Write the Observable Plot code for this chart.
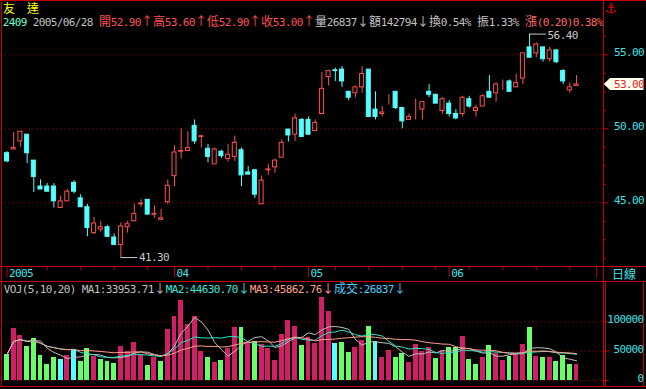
<!DOCTYPE html>
<html><head><meta charset="utf-8">
<script src="https://cdn.jsdelivr.net/npm/d3@7"></script>
<script src="https://cdn.jsdelivr.net/npm/@observablehq/plot@0.6"></script>
<style>
html,body{margin:0;padding:0;background:#000;}
#wrap{position:relative;width:646px;height:389px;background:#000;overflow:hidden;}
#wrap svg{position:absolute;left:0;top:0;}
</style></head><body><div id="wrap"></div>
<script>
// ---------- data ----------
const open  = [48.35,48.6,49.15,49.6,47.85,46.1,46.1,46.1,44.65,45.1,46.35,45.3,44.7,42.95,43.2,43.35,42.65,42.15,43.35,43.75,44.9,45.2,44.2,43.85,45.05,46.8,48.45,48.5,50.2,49.45,48.65,47.6,48.45,47.95,48.1,48.55,47.05,47.2,44.9,47.2,47.4,48.05,49.95,49.6,50.6,50.6,49.85,51.0,53.5,53.95,54.0,52.5,52.4,52.8,54.0,51.3,51.0,52.3,52.5,51.4,50.6,51.2,51.3,52.5,52.3,51.2,51.7,51.0,51.0,52.0,51.2,51.5,52.5,52.4,53.1,53.2,52.8,53.4,55.5,55.1,55.5,54.7,55.3,53.9,52.6,52.9];
const high  = [48.45,49.75,49.8,49.6,47.85,46.55,46.3,46.3,45.45,45.9,46.5,45.55,44.9,44.0,43.75,43.45,42.9,43.65,43.75,44.9,45.2,45.2,44.8,44.55,46.55,48.85,50.0,49.8,50.6,49.55,48.95,48.7,48.55,48.95,49.5,48.7,47.45,47.25,46.8,47.6,47.95,49.25,49.95,51.0,50.7,50.8,50.6,53.8,53.9,54.1,54.2,52.5,52.9,54.2,54.0,52.5,51.5,52.3,52.5,51.4,51.0,52.0,51.8,53.0,52.3,52.1,51.9,51.3,52.2,52.2,51.6,52.3,53.6,53.1,53.3,53.3,53.7,55.1,56.4,55.8,55.5,55.5,55.3,54.0,53.1,53.6];
const low   = [47.7,48.6,48.75,47.65,45.7,45.9,45.75,44.65,44.65,45.1,45.6,44.7,42.7,42.85,43.0,42.7,42.15,41.3,42.95,43.75,44.7,44.2,43.95,43.85,44.9,46.1,47.95,48.5,48.95,48.7,47.7,47.6,48.0,47.75,47.8,46.1,46.9,45.3,44.9,46.85,47.0,48.05,49.1,49.15,49.45,49.6,49.85,51.0,52.9,53.2,52.8,51.9,52.1,52.4,50.8,50.6,50.8,51.6,51.3,50.0,50.6,50.6,50.6,52.1,51.7,51.0,50.8,50.6,50.8,51.4,50.8,51.5,52.1,51.8,52.6,52.5,52.8,53.0,54.8,54.8,54.5,54.5,54.4,53.0,52.4,52.9];
const close = [47.8,48.7,49.8,48.35,46.75,45.9,45.75,45.1,45.1,45.75,45.75,44.7,43.3,43.6,43.35,42.7,42.15,43.4,43.55,44.25,44.95,44.2,44.25,43.95,46.15,48.4,48.5,48.7,49.15,49.5,48.1,48.6,48.15,48.25,49.05,46.85,46.9,45.55,46.5,47.25,47.85,49.05,49.55,50.7,49.45,49.6,50.4,52.7,53.9,53.9,53.2,52.1,52.8,53.7,50.8,50.8,51.1,52.3,51.4,50.5,50.8,51.2,51.8,52.3,51.7,52.0,51.0,50.7,52.1,51.5,51.4,52.2,52.1,53.0,53.1,52.5,53.1,55.1,54.8,55.7,54.7,55.3,54.5,53.2,52.8,53.0];
const vol   = [44300,88600,76100,57900,71600,42600,27300,39200,35800,42000,52300,32400,54500,40900,35800,32400,29000,58400,48800,64700,43100,25600,39200,32400,86900,109500,136300,95900,109000,49400,39200,30700,34100,54500,90300,90300,65200,66400,60800,54500,34600,78900,102200,92000,59600,73300,63500,141900,118100,63500,64700,47700,56200,68100,92000,65900,39200,51100,39200,45400,30700,61300,49400,56200,37500,50600,55700,56200,75000,35800,27300,39200,59600,46000,34100,40900,46000,61300,90300,40900,39200,39200,32400,42600,27300,26837];

const headerTop   = [{text: "友　達", tone: "name"}];
const headerQuote = [
  {text: "2409", tone: "code"},
  {text: " 2005/06/28 ", tone: "info"},
  {text: "開52.90↑高53.60↑低52.90↑收53.00↑", tone: "up"},
  {text: "量26837↓額142794↓換0.54% 振1.33% ", tone: "info"},
  {text: "漲(0.20)0.38%", tone: "chg"}
];
const volHeader = [
  {text: "VOJ(5,10,20) MA1:33953.71↓", tone: "ma0"},
  {text: "MA2:44630.70↓", tone: "ma1"},
  {text: "MA3:45862.76↓", tone: "ma2"},
  {text: "成交:26837↓", tone: "vol"}
];
const maWindows       = [5, 10, 20];
const priceTicks      = [45, 50, 55];
const priceMinorTicks = [41.25, 42.5, 43.75, 46.25, 47.5, 48.75, 51.25, 52.5, 53.75, 56.25];
const volTicks        = [0, 50000, 100000];
const monthTickIdx    = [0, 25, 45, 66, 88];
const monthLabels     = ["2005", "04", "05", "06", ""];
const weekTickIdx     = [6, 11, 16, 21, 30, 35, 40, 49, 54, 59, 64, 69, 74, 79, 84];
const periodLabel     = "日線";
const anchorIcon      = "⚓";

// ---------- styles ----------
const RED = "#ff5050", CYAN = "#55ffff", FRAME = "#c40000", GRID = "#b00000";
const AXISTXT = "#3fe0e6", NOTE = "#c8c8c8";
const VOLUP = "#cf1f66", VOLDN = "#66ff66", VOLFLAT = "#55ffff";
const MACOL = ["#c0c0c0", "#2ee6c8", "#ff9f8a"];
const TONES = {name: "#ffff00", code: "#66ffcc", info: "#c0c0c0", up: "#ff5050", chg: "#ff6666",
               ma0: MACOL[0], ma1: "#33e6d6", ma2: MACOL[2], vol: "#44ccff"};

const N = close.length;
const idx = d3.range(N);
const isUp = i => close[i] >= open[i];
const volColor = i => {
  const prev = i > 0 ? close[i - 1] : open[i];
  return close[i] > prev ? VOLUP : close[i] < prev ? VOLDN : VOLFLAT;
};

const wrap = document.getElementById("wrap");
const W = 646, H = 389;
const X = {type: "linear", domain: [0, 85], range: [6.5, 6.5 + 6.7 * 85], axis: null};
const base = {
  width: W, height: H, marginTop: 0, marginBottom: 0, marginLeft: 3, marginRight: 43,
  color: {type: "identity"},
  style: {background: "transparent", fontFamily: "'DejaVu Sans Mono', monospace", fontSize: "11px", letterSpacing: "-0.6px", overflow: "visible"}
};

// ---------- frame (layout only) ----------
const frame = d3.create("svg").attr("width", W).attr("height", H);
const ln = (x1, y1, x2, y2) => frame.append("line").attr("x1", x1).attr("y1", y1).attr("x2", x2).attr("y2", y2)
  .attr("stroke", FRAME).attr("stroke-width", 1);
ln(0, 0.5, W, 0.5);
ln(1.5, 0, 1.5, 387);
ln(0, 386.5, W, 386.5);
ln(603.5, 0, 603.5, 387);
ln(0, 266.5, W, 266.5);
ln(0, 281.5, W, 281.5);
ln(605.5, 281.5, 605.5, 386.5);
ln(643.5, 281.5, 643.5, 386.5);
wrap.appendChild(frame.node());

// ---------- price panel ----------
const iLow = d3.minIndex(low), iHigh = d3.maxIndex(high);
const priceTag = (index, scales) => {
  const yc = scales.y(close[N - 1]);
  const g = d3.create("svg:g");
  g.append("polygon")
    .attr("points", [[603.8, yc], [610, yc - 6], [643.5, yc - 6], [643.5, yc + 6], [610, yc + 6]].map(p => p.join(",")).join(" "))
    .attr("fill", "#fffff0");
  return g.node();
};
const price = Plot.plot({
  ...base,
  x: X,
  y: {domain: [45, 55], range: [202.3, 54.3], axis: null},
  marks: [
    Plot.ruleY(priceTicks, {y: d => d, stroke: GRID, strokeDasharray: "1,3", x1: -0.25, x2: 88.9}),
    Plot.ruleX(idx, {x: i => i, y1: i => low[i], y2: i => high[i], stroke: i => isUp(i) ? RED : CYAN}),
    Plot.rect(idx, {x1: i => i - 0.3, x2: i => i + 0.3, y1: i => open[i], y2: i => close[i],
      fill: i => isUp(i) ? "#000000" : CYAN, stroke: i => isUp(i) ? RED : CYAN}),
    Plot.axisY(priceTicks, {anchor: "right", tickSize: 4, tickFormat: () => "", stroke: FRAME, label: null}),
    Plot.axisY(priceMinorTicks, {anchor: "right", tickSize: 2, tickFormat: () => "", stroke: FRAME, label: null}),
    Plot.text(priceTicks, {y: d => d, text: d => d.toFixed(2), frameAnchor: "right", dx: 40.5, dy: -2,
      textAnchor: "end", fill: AXISTXT}),
    // low / high annotations
    Plot.ruleY([iLow], {y: i => low[i], x1: i => i, x2: i => i + 2.5, stroke: NOTE}),
    Plot.text([iLow], {x: i => i, y: i => low[i], text: i => low[i].toFixed(2), dx: 18, textAnchor: "start", fill: NOTE}),
    Plot.ruleY([iHigh], {y: i => high[i], x1: i => i, x2: i => i + 2.5, stroke: NOTE}),
    Plot.text([iHigh], {x: i => i, y: i => high[i], text: i => high[i].toFixed(2), dx: 18, dy: 1, textAnchor: "start", fill: NOTE}),
    // last price tag
    priceTag,
    Plot.text([N - 1], {y: i => close[i], text: i => close[i].toFixed(2), frameAnchor: "right", dx: 40.5,
      textAnchor: "end", fill: "#e8201e"})
  ]
});
wrap.appendChild(price);

// ---------- date strip ----------
const dates = Plot.plot({
  ...base,
  marginTop: 267, marginBottom: H - 277,
  x: X,
  y: {domain: [0, 1], range: [277, 267], axis: null},
  marks: [
    Plot.ruleX(weekTickIdx, {x: d => d, y1: 0.7, y2: 1, stroke: FRAME}),
    Plot.ruleX(monthTickIdx, {x: d => d, y1: 0, y2: 1, stroke: FRAME}),
    Plot.text(monthTickIdx.map((x, k) => ({x, label: monthLabels[k]})),
      {x: "x", text: "label", frameAnchor: "middle", dx: 2, dy: 1, textAnchor: "start", fill: AXISTXT})
  ]
});
wrap.appendChild(dates);

// ---------- volume panel ----------
const volume = Plot.plot({
  ...base,
  x: X,
  y: {domain: [0, 100000], range: [380, 321.3], axis: null},
  marks: [
    Plot.ruleY(volTicks, {y: d => d, stroke: GRID, strokeDasharray: "1,3", x1: -0.25, x2: 88.9}),
    Plot.rect(idx, {x1: i => i - 0.37, x2: i => i + 0.37, y1: 0, y2: i => vol[i], fill: volColor, shapeRendering: "crispEdges"}),
    ...maWindows.map((k, j) => Plot.lineY(idx, Plot.windowY({k, anchor: "end"},
      {x: i => i, y: i => vol[i], stroke: MACOL[j], strokeWidth: 1}))),
    Plot.axisY(volTicks, {anchor: "right", tickSize: 5, tickFormat: () => "", stroke: FRAME, label: null}),
    Plot.text(volTicks, {y: d => d, text: d => String(d), frameAnchor: "right", dx: 40, dy: -2,
      textAnchor: "end", fill: AXISTXT})
  ]
});
wrap.appendChild(volume);

// ---------- header texts (character cells: 6px half width, 12px full width) ----------
const hdr = d3.create("svg").attr("width", W).attr("height", H);
function cells(x, y, str, color) {
  for (const ch of str) {
    const wide = ch.codePointAt(0) > 0x2000;
    const w = wide ? 12 : 6;
    if (ch !== " " && ch !== "\u3000") {
      hdr.append("text").attr("x", x + w / 2).attr("y", y).attr("text-anchor", "middle")
        .attr("fill", color)
        .style("font-family", wide ? "'Noto Sans CJK TC', sans-serif" : "'DejaVu Sans Mono', monospace")
        .style("font-size", wide ? "12px" : "11px")
        .text(ch);
    }
    x += w;
  }
  return x;
}
let cx = 3;
for (const s of headerTop) cx = cells(cx, 12.5, s.text, TONES[s.tone]);
cx = 3;
for (const s of headerQuote) cx = cells(cx, 26, s.text, TONES[s.tone]);
cx = 4;
for (const s of volHeader) cx = cells(cx, 292.5, s.text, TONES[s.tone]);
cells(612, 278.5, periodLabel, AXISTXT);
hdr.append("text").attr("x", 611).attr("y", 13).attr("text-anchor", "middle").attr("fill", "#e00000")
  .style("font-family", "'DejaVu Sans', sans-serif").style("font-size", "14px").style("font-weight", "bold").text(anchorIcon);
wrap.appendChild(hdr.node());
</script></body></html>
